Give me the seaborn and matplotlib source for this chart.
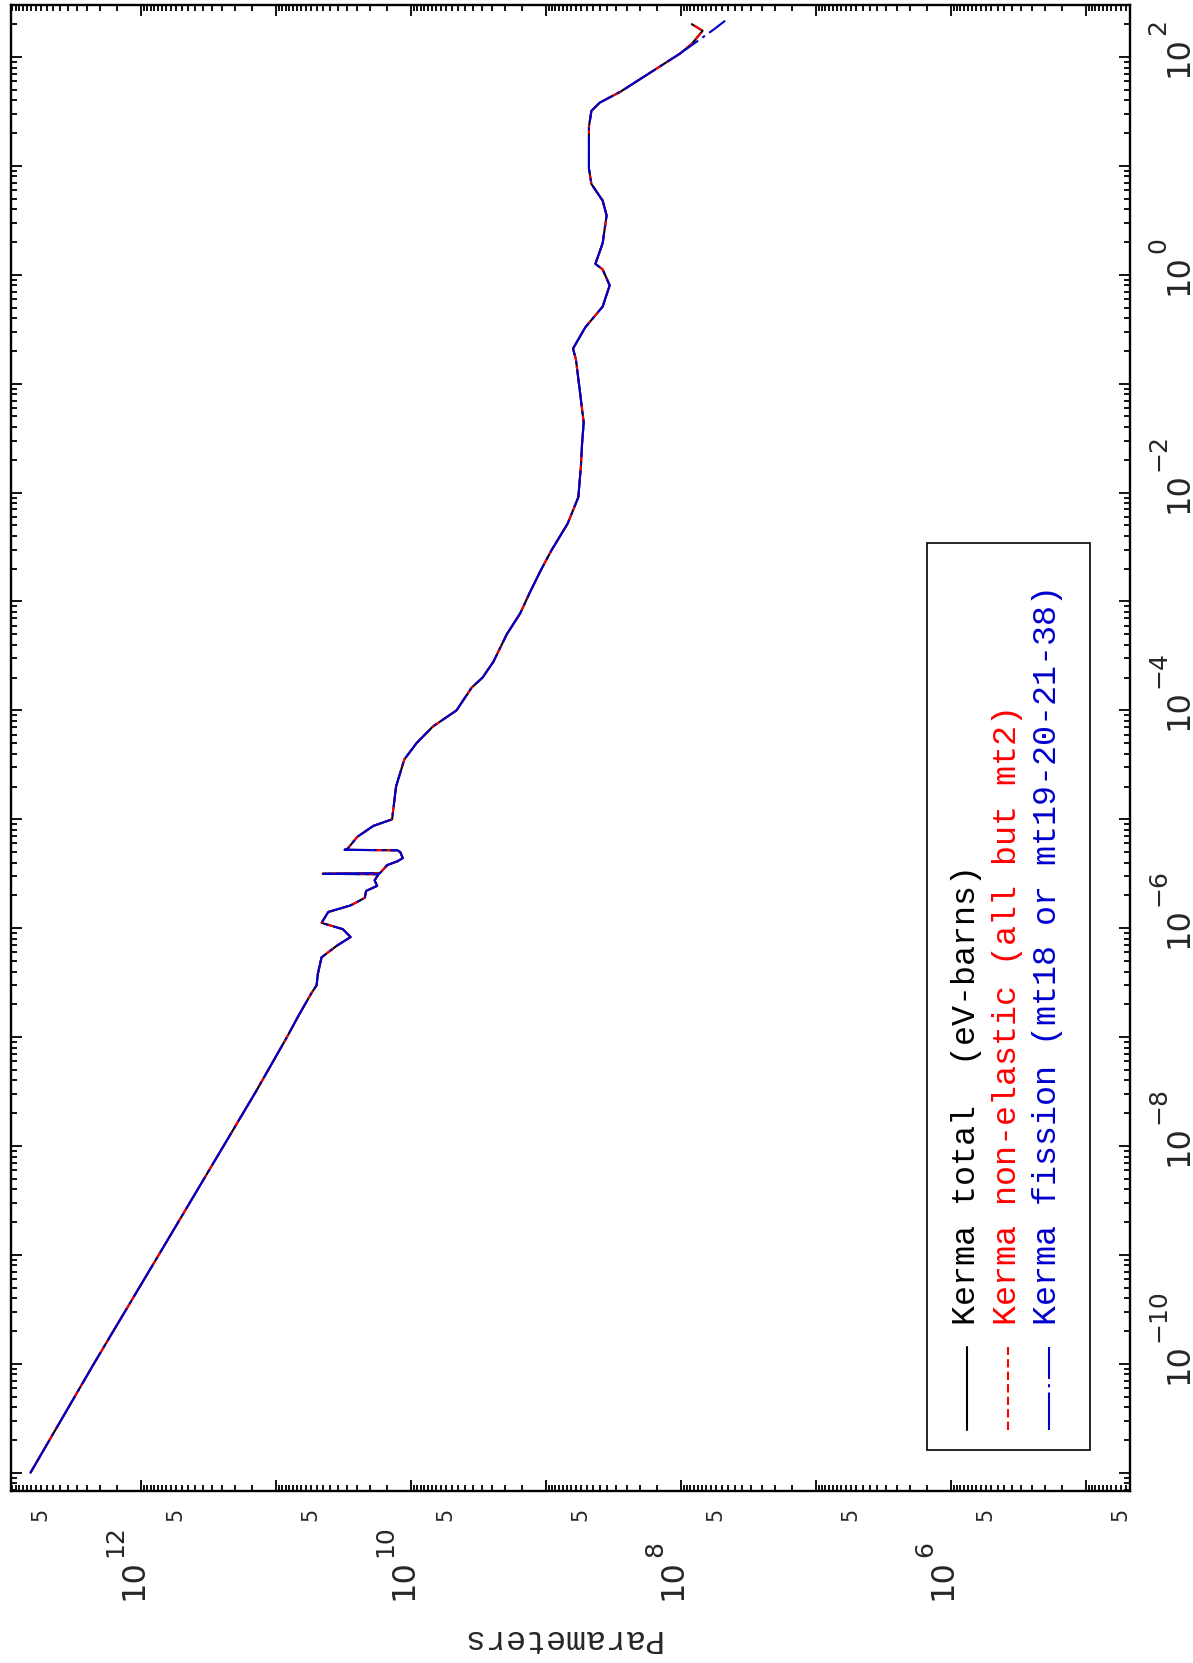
import numpy as np
import pandas as pd
import matplotlib
matplotlib.use("Agg")
import matplotlib.pyplot as plt
import matplotlib.transforms as mtransforms
from matplotlib.lines import Line2D
from matplotlib.patches import Rectangle
from matplotlib.ticker import LogLocator, NullFormatter
import seaborn as sns

# energy (vertical axis) and kerma (horizontal axis, eV-barns)
energy = [1.0e-11, 1.0e-10, 1.0e-9, 1.0e-8, 3.16e-8, 1.0e-7, 1.58e-7, 2.5e-7, 3.0e-7,
          3.8e-7, 5.4e-7, 6.9e-7, 8.3e-7, 9.8e-7, 1.12e-6, 1.41e-6, 1.62e-6, 1.9e-6,
          2.2e-6, 2.45e-6, 2.75e-6, 3.13e-6, 3.16e-6, 3.2e-6, 3.8e-6, 4.12e-6, 4.4e-6,
          5.0e-6, 5.19e-6, 5.25e-6, 5.37e-6, 6.9e-6, 8.7e-6, 1.0e-5, 2.0e-5, 3.55e-5,
          5.0e-5, 7.1e-5, 1.0e-4, 1.62e-4, 2.0e-4, 2.8e-4, 5.0e-4, 7.8e-4, 1.2e-3,
          1.9e-3, 2.95e-3, 5.2e-3, 9.1e-3, 1.78e-2, 2.8e-2, 4.4e-2, 8.5e-2, 0.168, 0.21,
          0.33, 0.51, 0.80, 1.12, 1.26, 1.95, 3.5, 4.8, 6.8, 9.4, 23.0, 32.0, 38.0,
          48.0, 107.0]
kerma = [6.6e12, 2.24e12, 7.4e11, 2.45e11, 1.41e11, 8.3e10, 6.8e10, 5.5e10, 5.0e10,
         4.9e10, 4.6e10, 3.55e10, 2.8e10, 3.2e10, 4.6e10, 4.1e10, 2.8e10, 2.2e10,
         2.15e10, 1.78e10, 1.86e10, 1.74e10, 4.5e10, 1.7e10, 1.5e10, 1.26e10, 1.15e10,
         1.2e10, 1.26e10, 3.1e10, 2.95e10, 2.5e10, 1.9e10, 1.38e10, 1.29e10, 1.12e10,
         9.1e9, 6.9e9, 4.6e9, 3.55e9, 2.95e9, 2.45e9, 1.95e9, 1.55e9, 1.32e9,
         1.1e9, 9.1e8, 6.9e8, 5.75e8, 5.5e8, 5.4e8, 5.25e8, 5.6e8, 6.0e8, 6.3e8,
         5.1e8, 3.8e8, 3.37e8, 3.8e8, 4.3e8, 3.8e8, 3.55e8, 3.8e8, 4.6e8, 4.8e8, 4.8e8,
         4.6e8, 4.0e8, 2.8e8, 1.02e8]

# high energy end where the three curves split
tail_energy_total = [132.0, 174.0, 200.0]
tail_kerma_total = [8.3e7, 6.9e7, 8.3e7]
tail_energy_nonel = [132.0, 174.0, 200.0]
tail_kerma_nonel = [8.3e7, 6.9e7, 8.3e7]
tail_energy_fission = [151.0, 182.0, 215.0]
tail_kerma_fission = [6.9e7, 5.6e7, 4.7e7]

series_names = ["total", "nonel", "fission"]
legend_labels = ["Kerma total  (eV-barns)",
                 "Kerma non-elastic (all but mt2)",
                 "Kerma fission (mt18 or mt19-20-21-38)"]
colors = {"total": "black", "nonel": "#ff0000", "fission": "#0000cd"}
dashes = {"total": "", "nonel": (4, 2), "fission": (18, 2.5, 1.5, 2.5)}

energy_ticks_labeled = [2, 0, -2, -4, -6, -8, -10]
kerma_ticks_labeled = [12, 10, 8, 6]
kerma_five_ticks = [5e12, 5e11, 5e10, 5e9, 5e8, 5e7, 5e6, 5e5, 5e4]

W, H = 1193, 1663
PX = 1 / 100  # one pixel in inches at dpi 100


def build_frame():
    tails = {
        "total": (tail_energy_total, tail_kerma_total),
        "nonel": (tail_energy_nonel, tail_kerma_nonel),
        "fission": (tail_energy_fission, tail_kerma_fission),
    }
    parts = []
    for name in series_names:
        te, tk = tails[name]
        parts.append(pd.DataFrame({"energy": energy + te, "kerma": kerma + tk, "series": name}))
    return pd.concat(parts, ignore_index=True)


def rotated_text(ax, fig, tr, x, y, dx, dy, s, size, ha="left"):
    # text reading bottom-to-top, anchored on its baseline, offset in pixels
    t = tr + mtransforms.ScaledTranslation(dx * PX, dy * PX, fig.dpi_scale_trans)
    ax.text(x, y, s, transform=t, rotation=90, rotation_mode="anchor",
            ha=ha, va="baseline", fontsize=size, clip_on=False)


sns.set_style("ticks")
plt.rcParams["font.family"] = ["DejaVu Sans"]

fig = plt.figure(figsize=(W / 100, H / 100), dpi=100)
ax = fig.add_axes([11 / W, 1 - 1491 / H, 1119 / W, 1486 / H])

df = build_frame()
sns.lineplot(data=df, x="kerma", y="energy", hue="series", style="series",
             hue_order=series_names, style_order=series_names,
             palette=colors, dashes=dashes, sort=False, estimator=None,
             linewidth=1.5, legend=False, ax=ax)

ax.set_xscale("log")
ax.set_yscale("log")
ax.set_xlim(9.2e12, 4.7e4)
ax.set_ylim(6.8e-12, 3.0e2)
ax.set_xlabel("")
ax.set_ylabel("")

ax.xaxis.set_major_locator(LogLocator(base=10, numticks=100))
ax.xaxis.set_minor_locator(LogLocator(base=10, subs=np.arange(1.5, 10, 0.5), numticks=100))
ax.yaxis.set_major_locator(LogLocator(base=10, numticks=100))
ax.yaxis.set_minor_locator(LogLocator(base=10, subs=np.arange(2, 10), numticks=100))
for axis in (ax.xaxis, ax.yaxis):
    axis.set_major_formatter(NullFormatter())
    axis.set_minor_formatter(NullFormatter())

ax.tick_params(which="both", direction="in", top=True, bottom=True, left=True, right=True,
               labelbottom=False, labelleft=False, color="black", width=1.3)
ax.tick_params(which="major", length=8)
ax.tick_params(which="minor", length=4)
for sp in ax.spines.values():
    sp.set_linewidth(1.7)
    sp.set_color("black")

# energy labels on the right side
tr_right = mtransforms.blended_transform_factory(ax.transAxes, ax.transData)
for e in energy_ticks_labeled:
    rotated_text(ax, fig, tr_right, 1.0, 10.0 ** e, 57, -20, "10", 23)
    rotated_text(ax, fig, tr_right, 1.0, 10.0 ** e, 35, 22, str(e).replace("-", "\u2212"), 18)

# kerma labels under the bottom spine
tr_bottom = mtransforms.blended_transform_factory(ax.transData, ax.transAxes)
for k in kerma_ticks_labeled:
    rotated_text(ax, fig, tr_bottom, 10.0 ** k, 0.0, 1, -109, "10", 23)
    rotated_text(ax, fig, tr_bottom, 10.0 ** k, 0.0, -19, -66, str(k), 18)
for v in kerma_five_ticks:
    rotated_text(ax, fig, tr_bottom, v, 0.0, 0, -23, "5", 15, ha="center")

fig.text(560 / W, 1 - 1638 / H, "Parameters", rotation=180, ha="center", va="center",
         fontsize=24, family="Liberation Mono")

# legend box, drawn by hand because the page is turned on its side
fig.add_artist(Rectangle((927 / W, 1 - 1450 / H), (1090 - 927) / W, (1450 - 543) / H,
                         transform=fig.transFigure, fill=False, edgecolor="black", linewidth=1.2))
text_x = [975, 1016, 1056]
line_x = [967, 1008, 1049]
for name, label, tx, lx in zip(series_names, legend_labels, text_x, line_x):
    fig.add_artist(Line2D([lx / W, lx / W], [1 - 1430 / H, 1 - 1347 / H], transform=fig.transFigure,
                          color=colors[name], linewidth=1.5,
                          dashes=dashes[name] if dashes[name] else (None, None)))
    fig.text(tx / W, 1 - 1325 / H, label, rotation=90, rotation_mode="anchor", ha="left",
             va="baseline", fontsize=24, family="Liberation Mono", color=colors[name])

fig.savefig("out.png", dpi=100)
